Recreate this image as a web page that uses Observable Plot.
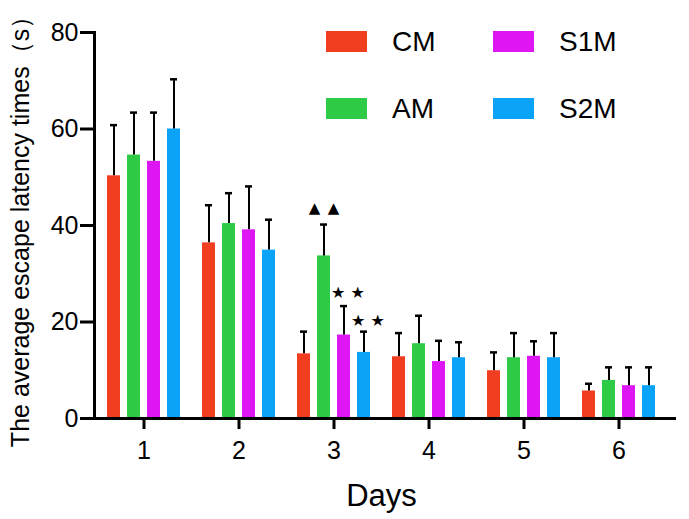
<!DOCTYPE html>
<html>
<head>
<meta charset="utf-8">
<script src="https://cdn.jsdelivr.net/npm/d3@7"></script>
<script src="https://cdn.jsdelivr.net/npm/@observablehq/plot@0.6"></script>
<style>
  html, body { margin: 0; padding: 0; background: white; }
  #wrap { position: relative; width: 689px; height: 519px; font-family: 'Liberation Sans', Arial, sans-serif; }
  #legend { position: absolute; left: 326px; top: 31px; display: grid; grid-template-columns: 167px auto; row-gap: 46px; }
  .item { display: flex; align-items: center; height: 21px; }
  .sw { width: 41px; height: 21px; margin-right: 25px; }
  .lb { font-size: 28px; line-height: 21px; color: black; }
</style>
</head>
<body>
<div id="wrap"><div id="legend"></div></div>
<script>
const days = [1, 2, 3, 4, 5, 6];
const groups = ["CM", "AM", "S1M", "S2M"];
const colors = ["#f23e20", "#2fcb47", "#dd16f3", "#0ba3f8"];

const cmMean  = [50.3, 36.4, 13.4, 12.8, 9.9, 5.7];
const cmSd    = [10.5, 7.8, 4.6, 4.9, 3.8, 1.5];
const amMean  = [54.6, 40.4, 33.7, 15.5, 12.6, 7.9];
const amSd    = [8.8, 6.3, 6.5, 5.8, 5.1, 2.7];
const s1mMean = [53.3, 39.1, 17.3, 11.8, 12.9, 6.8];
const s1mSd   = [10.1, 9.0, 6.0, 4.3, 3.1, 3.8];
const s2mMean = [60.0, 34.9, 13.7, 12.6, 12.6, 6.8];
const s2mSd   = [10.3, 6.3, 4.3, 3.2, 5.1, 3.8];

const yTicks = [0, 20, 40, 60, 80];
const xLabel = "Days";
const yLabel = "The average escape latency times（s）";

const annotDay   = [3, 3, 3];
const annotGroup = ["AM", "S1M", "S2M"];
const annotY     = [43.5, 26.0, 20.2];
const annotText  = ["▲\u2002▲", "★ ★", "★ ★"];

const means = [cmMean, amMean, s1mMean, s2mMean];
const sds = [cmSd, amSd, s1mSd, s2mSd];
const data = groups.flatMap((g, i) => days.map((d, j) => ({day: d, group: g, mean: means[i][j], sd: sds[i][j]})));
const annots = annotDay.map((d, i) => ({day: d, group: annotGroup[i], y: annotY[i], label: annotText[i]}));
const triAnn = annots.filter(a => a.label.includes("▲"));
const starAnn = annots.filter(a => a.label.includes("★"));

const chart = Plot.plot({
  width: 689, height: 519,
  marginLeft: 92, marginRight: 12, marginTop: 32, marginBottom: 101,
  style: {fontFamily: "'Liberation Sans', Arial, sans-serif", background: "white", color: "black"},
  fx: {domain: days, range: [94, 667], padding: 0, label: null},
  x: {domain: groups, paddingInner: 0.37, paddingOuter: 0.51, axis: null},
  y: {domain: [0, 80], axis: null},
  color: {domain: groups, range: colors},
  marks: [
    Plot.barY(data, {fx: "day", x: "group", y: "mean", fill: "group"}),
    Plot.ruleX(data, {fx: "day", x: "group", y1: "mean", y2: d => d.mean + d.sd, stroke: "black", strokeWidth: 2}),
    Plot.tickY(data, {fx: "day", x: "group", y: d => d.mean + d.sd, stroke: "black", strokeWidth: 2.5, insetLeft: 3, insetRight: 3}),
    Plot.text(triAnn, {fx: "day", x: "group", y: "y", text: "label", fontSize: 15, fontFamily: "DejaVu Sans", fill: "black"}),
    Plot.text(starAnn, {fx: "day", x: "group", y: "y", text: "label", fontSize: 16, fontFamily: "DejaVu Sans", fill: "black", dx: 4}),
    Plot.ruleY([0], {strokeWidth: 3, insetLeft: -2, insetRight: -10}),
    Plot.frame({anchor: "left", facetAnchor: "left", strokeWidth: 3, dx: -2}),
    Plot.axisY({ticks: yTicks, tickSize: 14, tickPadding: 2, fontSize: 25, strokeWidth: 3, label: null, dx: -2}),
    Plot.axisY({ticks: [], tickSize: 0, label: yLabel, labelAnchor: "center", labelArrow: "none", labelOffset: 85, fontSize: 25, dy: 10}),
    Plot.axisFx({anchor: "bottom", tickSize: 11, tickPadding: 12, fontSize: 25, strokeWidth: 3, label: null}),
    Plot.axisFx({anchor: "bottom", tickSize: 0, tickFormat: () => "", label: xLabel, labelAnchor: "center", labelOffset: 87, fontSize: 31})
  ]
});
const wrap = document.getElementById("wrap");
wrap.insertBefore(chart, wrap.firstChild);

const legend = document.getElementById("legend");
const order = [0, 2, 1, 3];
order.forEach(i => {
  const item = document.createElement("div");
  item.className = "item";
  const sw = document.createElement("div");
  sw.className = "sw";
  sw.style.background = colors[i];
  const lb = document.createElement("span");
  lb.className = "lb";
  lb.textContent = groups[i];
  item.appendChild(sw);
  item.appendChild(lb);
  legend.appendChild(item);
});
</script>
</body>
</html>
